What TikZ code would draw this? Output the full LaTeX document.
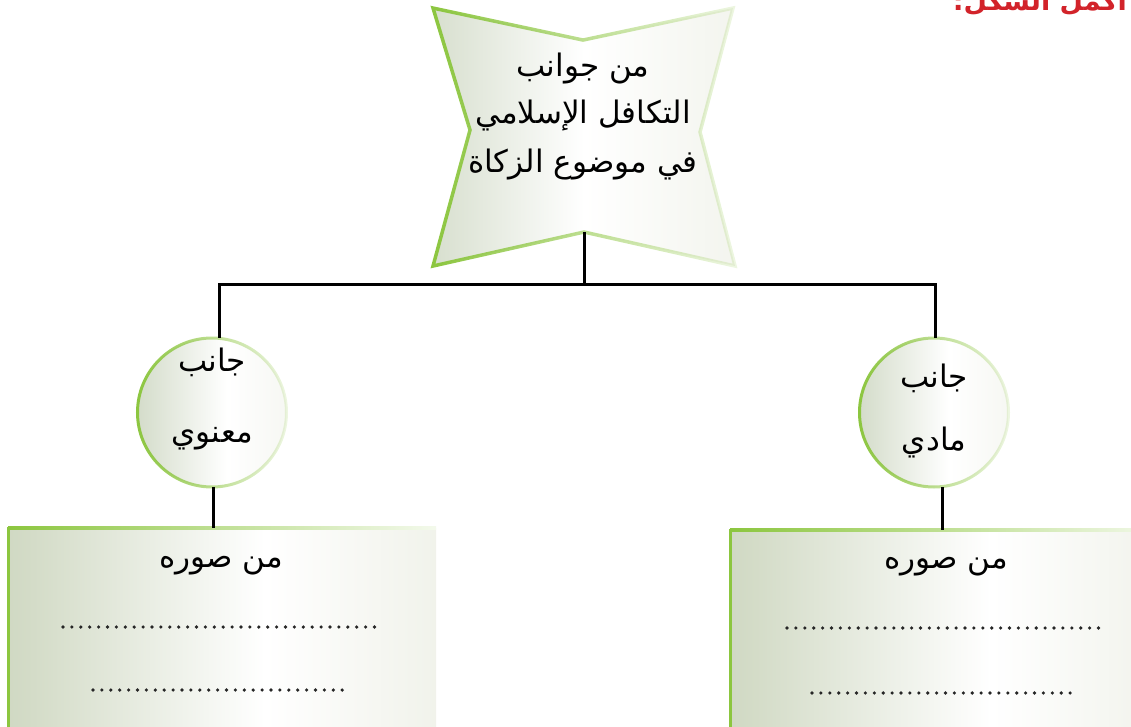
\documentclass[tikz,border=0pt]{standalone}
\usepackage{fontspec}
\newfontfamily\arabicfont[Script=Arabic]{DejaVu Sans}
\TeXXeTstate=1
\usetikzlibrary{fadings}
\definecolor{bord}{RGB}{140,198,63}
\definecolor{fillL}{RGB}{176,191,158}
\definecolor{fillM}{RGB}{212,220,200}
\definecolor{fillR}{RGB}{236,238,228}
\definecolor{redt}{RGB}{210,35,42}
\tikzfading[name=fadeR, left color=transparent!0, right color=transparent!85]
\pgfdeclarehorizontalshading{boxsh}{100bp}{color(0bp)=(fillL); color(28bp)=(fillM); color(55bp)=(white); color(82bp)=(fillR); color(100bp)=(white)}
\pgfdeclarehorizontalshading{starsh}{100bp}{color(0bp)=(fillL); color(50bp)=(white); color(90bp)=(fillR); color(100bp)=(white)}
\pgfdeclarehorizontalshading{circsh}{100bp}{color(0bp)=(fillL); color(55bp)=(white); color(100bp)=(fillR)}
\tikzset{
  conn/.style={draw=black, line width=3pt},
  dotline/.style={draw=black!85, line width=3.6pt, line cap=round, dash pattern=on 0pt off 8.9pt},
  artxt/.style={font=\arabicfont\fontsize{31}{36}\selectfont, inner sep=0pt, anchor=base},
  circ/.style={circle, minimum size=149pt, inner sep=0pt, shading=circsh},
}
\begin{document}
\begin{tikzpicture}[x=1pt,y=-1pt]
\useasboundingbox (0,0) rectangle (1131,727);
% title (cut off at top, as in the reference)
\node[font=\arabicfont\bfseries\fontsize{27}{30}\selectfont, text=redt, inner sep=0pt, anchor=base east] (title) at (1127,11) {\beginR أكمل الشكل:\endR};
% star
\shade[shading=starsh] (433,8) -- (583,40) -- (733,8) -- (700,132) -- (735,266) -- (584,232) -- (433,266) -- (470,130) -- cycle;
\draw[bord, line width=3.5pt, line join=miter, path fading=fadeR] (433,8) -- (583,40) -- (733,8) -- (700,132) -- (735,266) -- (584,232) -- (433,266) -- (470,130) -- cycle;
\node[artxt] (s1) at (583,77) {\beginR من جوانب\endR};
\node[artxt] (s2) at (583,124) {\beginR التكافل الإسلامي\endR};
\node[artxt] (s3) at (583,173) {\beginR في موضوع الزكاة\endR};
\coordinate (sb) at (584,232);
\coordinate (hub) at (584,284);
% circles
\node[circ] (lc) at (212,412.5) {};
\node[circ] (rc) at (934,412.5) {};
\draw[bord, line width=3pt, path fading=fadeR] (lc.center) circle (74.5pt);
\draw[bord, line width=3pt, path fading=fadeR] (rc.center) circle (74.5pt);
\node[artxt] (l1) at (212,371) {\beginR جانب\endR};
\node[artxt] (l2) at (212,442) {\beginR معنوي\endR};
\node[artxt] (r1) at (934,387) {\beginR جانب\endR};
\node[artxt] (r2) at (934,450) {\beginR مادي\endR};
% boxes
\shade[shading=boxsh] (8,528) rectangle (436,740);
\shade[left color=bord, right color=bord!10] (8,526.5) rectangle (436,529.5);
\draw[bord, line width=3pt] (8,740) -- (8,526.5);
\shade[shading=boxsh] (730,530) rectangle (1165,740);
\shade[left color=bord, right color=bord!10] (730,528.5) rectangle (1165,531.5);
\draw[bord, line width=3pt] (730,740) -- (730,528.5);
\coordinate (lbt) at (213,528);
\coordinate (rbt) at (942,530);
\node[artxt] (lb1) at (221,567) {\beginR من صوره\endR};
\node[artxt] (rb1) at (946,568) {\beginR من صوره\endR};
\coordinate (ld1a) at (63,627); \coordinate (ld1b) at (379,627);
\coordinate (ld2a) at (93,690); \coordinate (ld2b) at (351,690);
\coordinate (rd1a) at (787,628); \coordinate (rd1b) at (1101,628);
\coordinate (rd2a) at (812,693); \coordinate (rd2b) at (1077,693);
\draw[dotline] (ld1a) -- (ld1b);
\draw[dotline] (ld2a) -- (ld2b);
\draw[dotline] (rd1a) -- (rd1b);
\draw[dotline] (rd2a) -- (rd2b);
% connectors
\draw[conn] (sb) -- (hub);
\draw[conn] (hub) -| ([xshift=7pt]lc.north);
\draw[conn] (hub) -| ([xshift=1pt]rc.north);
\draw[conn] ([xshift=1pt]lc.south) -- (lbt);
\draw[conn] ([xshift=8pt]rc.south) -- (rbt);
\end{tikzpicture}
\end{document}
